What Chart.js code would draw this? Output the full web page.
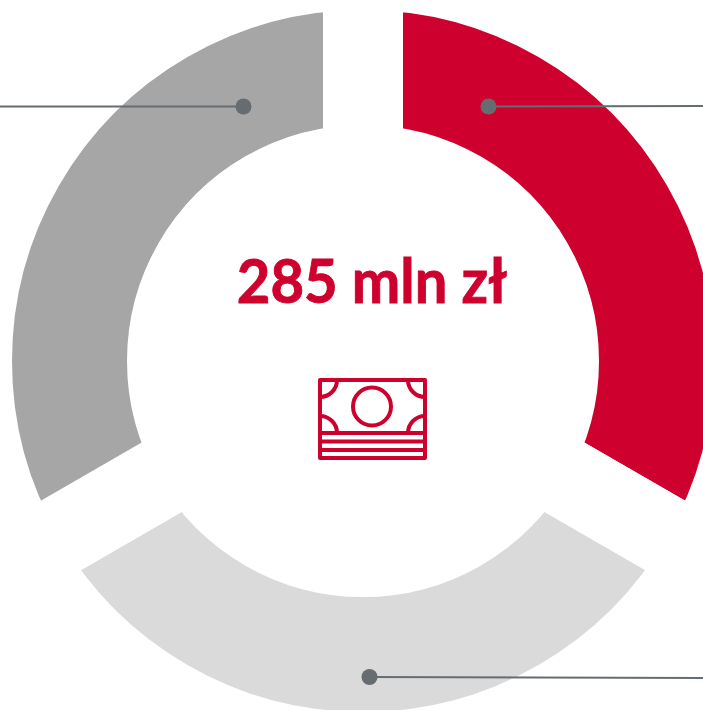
<!DOCTYPE html>
<html>
<head>
<meta charset="utf-8">
<script src="https://cdn.jsdelivr.net/npm/chart.js@4"></script>
<style>
    html, body { margin: 0; background: #fff; overflow: hidden; width: 703px; height: 710px; }
    /* the ring runs off the right and bottom of the picture */
    #wrap { position: absolute; left: -68px; top: -70px; width: 862px; height: 862px; }
</style>
</head>
<body>
<div id="wrap"><canvas id="myChart" width="862" height="862"></canvas></div>
<script>
const categories = ["A", "B", "C"];
const shares = [95, 95, 95];
const sliceColors = ["#ce002d", "#dadada", "#a6a6a6"];
const totalLabel = "285 mln zł";

const RED = "#ce002d";
const LEADER = "#666d72";

// dot position relative to ring centre, and how far the line runs (page x)
const leaders = [
    { dx: 125, dy: -254.5, endX: 703, endDy: -255 },
    { dx: 6, dy: 316, endX: 703, endDy: 317 },
    { dx: -120, dy: -254.5, endX: 0, endDy: -254.5 }
];

const centerStuff = {
    id: "centerStuff",
    afterDraw(chart) {
        const ctx = chart.ctx;
        const arc = chart.getDatasetMeta(0).data[0];
        const cx = arc.x, cy = arc.y;
        const pageLeft = cx - 363; // canvas x of page x = 0

        // leader lines
        leaders.forEach(l => {
            ctx.strokeStyle = LEADER;
            ctx.lineWidth = 2;
            ctx.beginPath();
            ctx.moveTo(cx + l.dx, cy + l.dy);
            ctx.lineTo(pageLeft + l.endX, cy + l.endDy);
            ctx.stroke();
            ctx.fillStyle = LEADER;
            ctx.beginPath();
            ctx.arc(cx + l.dx + 0.5, cy + l.dy, 8, 0, Math.PI * 2);
            ctx.fill();
        });

        // total, squeezed a little since Lato runs wider than the original face
        ctx.save();
        ctx.translate(cx + 9, cy - 58);
        ctx.scale(0.95, 1);
        ctx.fillStyle = RED;
        ctx.strokeStyle = RED;
        ctx.lineWidth = 0.9;
        ctx.font = "bold 61px Lato";
        ctx.textAlign = "center";
        ctx.textBaseline = "alphabetic";
        ctx.fillText(totalLabel, 0, 0);
        ctx.strokeText(totalLabel, 0, 0);
        ctx.restore();

        // banknote icon
        ctx.save();
        ctx.translate(cx, cy - 1);
        ctx.strokeStyle = RED;
        ctx.lineWidth = 4;
        ctx.lineJoin = "round";
        ctx.strokeRect(-43, 20, 105, 78);
        [73, 81.5, 90].forEach(y => {
            ctx.beginPath();
            ctx.moveTo(-43, y);
            ctx.lineTo(62, y);
            ctx.stroke();
        });
        ctx.beginPath();
        ctx.arc(9, 46.5, 19, 0, Math.PI * 2);
        ctx.stroke();
        [[-43, 20, 0, 0.5], [62, 20, 0.5, 1], [-43, 73, 1.5, 2], [62, 73, 1, 1.5]].forEach(c => {
            ctx.beginPath();
            ctx.arc(c[0], c[1], 17, c[2] * Math.PI, c[3] * Math.PI);
            ctx.stroke();
        });
        ctx.restore();
    }
};

const config = {
    type: "doughnut",
    data: {
        labels: categories,
        datasets: [{
            data: shares,
            backgroundColor: sliceColors,
            // a wide white border gives the parallel sided gaps
            borderColor: "#ffffff",
            borderWidth: 80,
            borderAlign: "center",
            hoverOffset: 0
        }]
    },
    options: {
        responsive: false,
        animation: false,
        cutout: 196,
        layout: { padding: 0 },
        plugins: {
            legend: { display: false },
            tooltip: { enabled: false }
        }
    },
    plugins: [centerStuff]
};

const myChart = new Chart(document.getElementById("myChart"), config);
</script>
</body>
</html>
